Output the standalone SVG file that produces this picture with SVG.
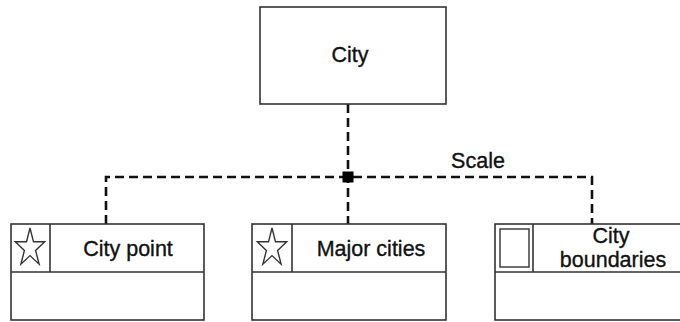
<svg xmlns="http://www.w3.org/2000/svg" width="680" height="322" viewBox="0 0 680 322">
<style>
.box{fill:#fff;stroke:#333;stroke-width:1.6}
.ln{fill:none;stroke:#333;stroke-width:1.6}
.icon{fill:none;stroke:#333;stroke-width:1.4}
.dash{fill:none;stroke:#111;stroke-width:2.6;stroke-dasharray:9 5}
text{font-family:"Liberation Sans",Arial,sans-serif;font-size:21.5px;fill:#111;stroke:#111;stroke-width:0.35;text-anchor:middle}
</style>
<defs>
<polygon id="star" points="0,-20 3.5,-6.2 14.7,-6.2 5.6,2.4 9.1,16.2 0,7.6 -9.1,16.2 -5.6,2.4 -14.7,-6.2 -3.5,-6.2"/>
</defs>
<g id="connectors">
<path class="dash" d="M348,104 V224"/>
<path class="dash" d="M106,224 V177 H592 V224"/>
<rect x="342.5" y="171.5" width="11" height="11" fill="#000"/>
<text x="478" y="168">Scale</text>
</g>
<g id="city">
<rect class="box" x="260" y="7" width="186" height="97"/>
<text x="350" y="62">City</text>
</g>
<g id="city-point">
<rect class="box" x="11" y="224" width="193" height="96"/>
<path class="ln" d="M11,272 H204 M50,224 V272"/>
<use href="#star" class="icon" x="30" y="248"/>
<text x="128" y="256">City point</text>
</g>
<g id="major-cities">
<rect class="box" x="252" y="224" width="194" height="96"/>
<path class="ln" d="M252,272 H446 M292,224 V272"/>
<use href="#star" class="icon" x="272" y="248"/>
<text x="371" y="256">Major cities</text>
</g>
<g id="city-boundaries">
<rect class="box" x="495" y="224" width="190" height="96"/>
<path class="ln" d="M495,272 H685 M533,224 V272"/>
<rect class="icon" x="500" y="229" width="29" height="38"/>
<text x="611" y="243">City</text>
<text x="613" y="267">boundaries</text>
</g>
</svg>
